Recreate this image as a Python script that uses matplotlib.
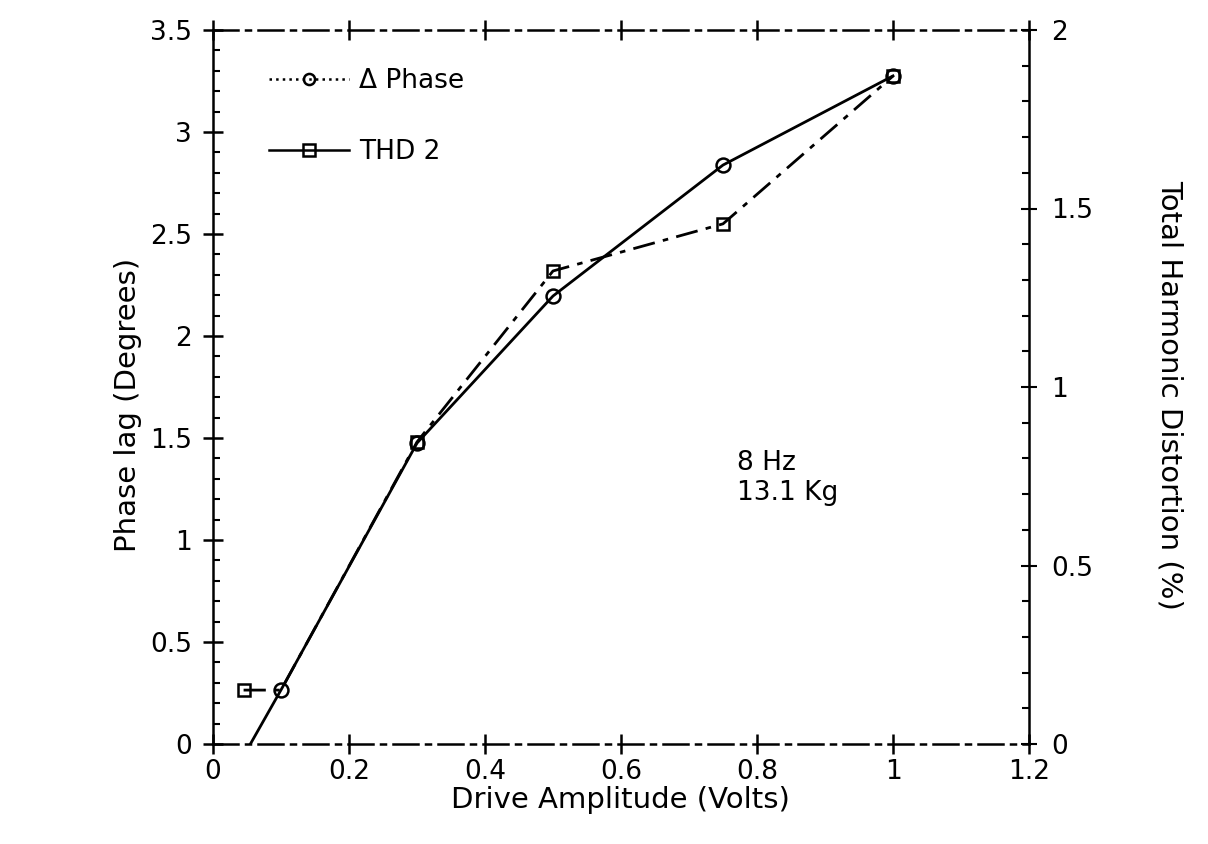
import matplotlib
matplotlib.use("Agg")
import matplotlib.pyplot as plt
from matplotlib.lines import Line2D
from matplotlib.ticker import MultipleLocator

# ---- data ----
phase_x = [0.055, 0.1, 0.3, 0.5, 0.75, 1.0]
phase_y = [0.0, 0.265, 1.475, 2.196, 2.838, 3.275]          # left axis (degrees)
phase_marker_x = [0.1, 0.3, 0.5, 0.75, 1.0]
phase_marker_y = [0.265, 1.475, 2.196, 2.838, 3.275]

thd_x = [0.045, 0.1, 0.3, 0.5, 0.75, 1.0]
thd_y = [0.151, 0.151, 0.846, 1.325, 1.457, 1.871]          # right axis (%)
thd_marker_x = [0.045, 0.3, 0.5, 0.75, 1.0]
thd_marker_y = [0.151, 0.846, 1.325, 1.457, 1.871]

x_ticks = [0, 0.2, 0.4, 0.6, 0.8, 1.0, 1.2]
x_tick_labels = ["0", "0.2", "0.4", "0.6", "0.8", "1", "1.2"]
left_ticks = [0, 0.5, 1, 1.5, 2, 2.5, 3, 3.5]
left_tick_labels = ["0", "0.5", "1", "1.5", "2", "2.5", "3", "3.5"]
right_ticks = [0, 0.5, 1, 1.5, 2]
right_tick_labels = ["0", "0.5", "1", "1.5", "2"]

annotation = "8 Hz\n13.1 Kg"

plt.rcParams['font.family'] = ['DejaVu Sans']
FS_TICK = 19
FS_LAB = 21

fig = plt.figure(figsize=(12.08, 8.44), dpi=100)
ax = fig.add_axes([213/1208, 1-744/844, 816/1208, 714/844])
ax2 = ax.twinx()

ax.set_xlim(0, 1.2)
ax.set_ylim(0, 3.5)
ax2.set_ylim(0, 2.0)

# series
ax.plot(phase_x, phase_y, color='black', lw=2.0, zorder=3)
ax.plot(phase_marker_x, phase_marker_y, ls='none', marker='o', ms=10,
        mfc='none', mec='black', mew=1.8, zorder=4)
ax2.plot(thd_x, thd_y, color='black', lw=2.0, ls=(0, (8, 3, 2, 3)), zorder=3)
ax2.plot(thd_marker_x, thd_marker_y, ls='none', marker='s', ms=9,
         mfc='none', mec='black', mew=1.8, zorder=4)

# ticks
ax.set_xticks(x_ticks)
ax.set_xticklabels(x_tick_labels, fontsize=FS_TICK)
ax.set_yticks(left_ticks)
ax.set_yticklabels(left_tick_labels, fontsize=FS_TICK)
ax.yaxis.set_minor_locator(MultipleLocator(0.1))
ax.tick_params(axis='x', which='major', direction='inout', length=14, width=1.8,
               top=True, pad=4)
ax.tick_params(axis='y', which='major', direction='inout', length=14, width=1.8,
               pad=8)
ax.tick_params(axis='y', which='minor', direction='in', length=5, width=1.5)
ax2.set_yticks(right_ticks)
ax2.set_yticklabels(right_tick_labels, fontsize=FS_TICK)
ax2.yaxis.set_minor_locator(MultipleLocator(0.1))
ax2.tick_params(axis='y', which='major', direction='inout', length=12, width=1.5, pad=10)
ax2.tick_params(axis='y', which='minor', direction='in', length=5, width=1.5)

# spines
for a in (ax, ax2):
    a.spines['top'].set_linestyle((0, (10, 3, 2, 3)))
    a.spines['bottom'].set_linestyle((0, (10, 3, 2, 3)))
    for s in a.spines.values():
        s.set_linewidth(1.8)
ax2.spines['top'].set_visible(False)
ax2.spines['bottom'].set_visible(False)
ax2.spines['left'].set_visible(False)
ax.spines['right'].set_visible(False)

# labels
ax.set_xlabel("Drive Amplitude (Volts)", fontsize=FS_LAB)
ax.xaxis.set_label_coords((620-213)/816, -(786-744)/714)
ax.set_ylabel("Phase lag (Degrees)", fontsize=FS_LAB)
ax.yaxis.set_label_coords(-(213-142)/816, (744-405)/714)
ax2.set_ylabel("Total Harmonic Distortion (%)", fontsize=FS_LAB, rotation=270,
               va='center')
ax2.yaxis.set_label_coords((1170-213)/816, (744-395)/714)

ax.text(0.77, 1.44, annotation, fontsize=FS_TICK, va='top', ha='left',
        linespacing=1.2)

# legend
handles = [
    Line2D([], [], color='black', lw=1.8, ls=':', marker='o', ms=8,
           mfc='none', mec='black', mew=1.8),
    Line2D([], [], color='black', lw=1.8, ls='-', marker='s', ms=8,
           mfc='none', mec='black', mew=1.8),
]
leg = ax.legend(handles, ["\u0394 Phase", "THD 2"], loc='upper left',
                bbox_to_anchor=(0.04, 0.98), frameon=False, fontsize=FS_TICK,
                handlelength=3.0, labelspacing=1.7, handletextpad=0.4)

fig.savefig("out.png", dpi=100)
